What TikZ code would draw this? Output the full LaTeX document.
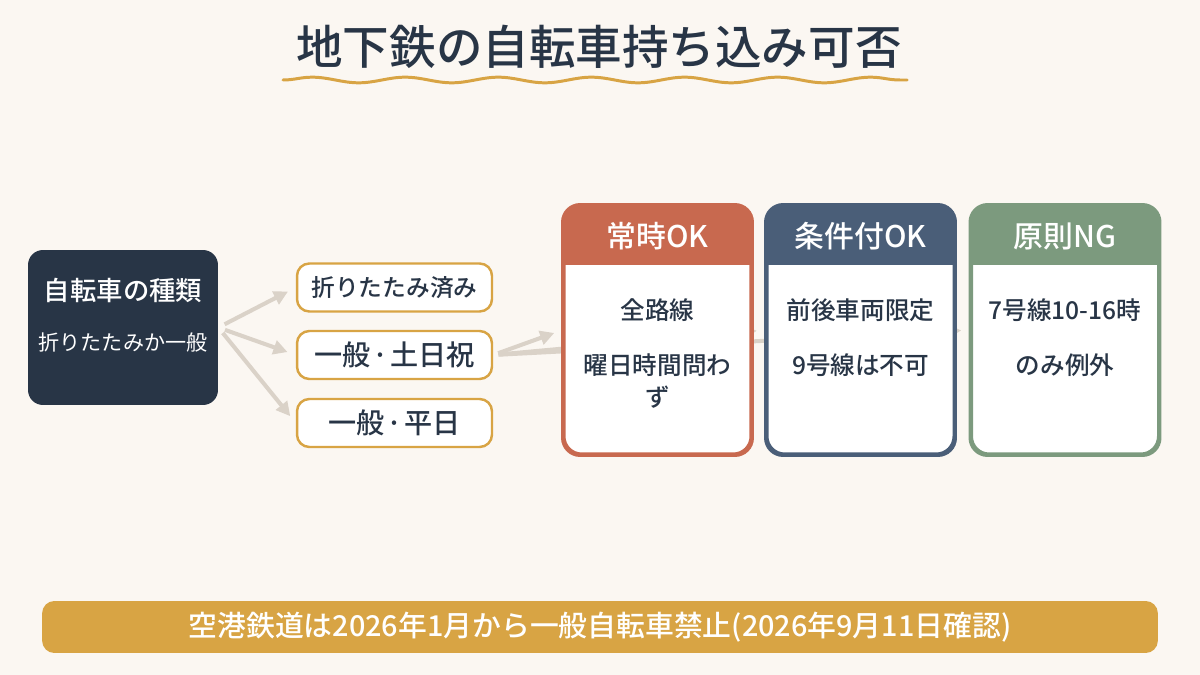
\documentclass[tikz,border=0pt]{standalone}
\usepackage{fontspec}
\setmainfont{Noto Sans CJK JP}[BoldFont={Noto Sans CJK JP Medium}]
\usetikzlibrary{positioning,arrows.meta,decorations.pathmorphing}

\definecolor{paper}{HTML}{FBF7F2}
\definecolor{ink}{HTML}{283546}
\definecolor{gold}{HTML}{D8A444}
\definecolor{rust}{HTML}{C8694F}
\definecolor{slate}{HTML}{4A5E78}
\definecolor{sage}{HTML}{7C9A7E}
\definecolor{link}{HTML}{DAD2C8}

\pgfdeclarelayer{bg}
\pgfdeclarelayer{under}
\pgfsetlayers{bg,under,main}

\tikzset{
    catbox/.style={rectangle, rounded corners=8.5pt, fill=ink, minimum width=3.8cm, minimum height=3.1cm},
    optbox/.style={rectangle, rounded corners=7pt, draw=gold, line width=1.4pt, fill=white,
        minimum width=3.9cm, minimum height=0.96cm, font=\fontsize{16}{18}\selectfont\bfseries, text=ink},
    card/.style={rectangle, rounded corners=10pt, line width=1.7pt, fill=white,
        minimum width=3.74cm, minimum height=4.96cm},
    headtxt/.style={font=\fontsize{17}{20}\selectfont\bfseries, text=white},
    bodytxt/.style={font=\fontsize{14}{17}\selectfont\bfseries, text=ink},
    link/.style={draw=link, line width=2.3pt, -{Triangle[length=8pt,width=8pt]}},
}

\begin{document}
\begin{tikzpicture}[x=0.02cm, y=-0.02cm]
    \useasboundingbox (0,0) rectangle (1200,675);
    \begin{pgfonlayer}{bg}
        \fill[paper] (0,0) rectangle (1200,675);
    \end{pgfonlayer}

    % title
    \node[font=\fontsize{26.5}{30}\selectfont\bfseries, text=ink] (title) at (599,47) {地下鉄の自転車持ち込み可否};
    \coordinate (waveL) at (283,80);
    \coordinate (waveR) at (907,80);
    \draw[gold, line width=1.7pt, line cap=round,
        decorate, decoration={snake, amplitude=1.6pt, segment length=53pt}] (waveL) -- (waveR);

    % bicycle type
    \node[catbox] (cat) at (123,327.5) {};
    \node[font=\fontsize{15}{18}\selectfont\bfseries, text=white] (catT) at (123,290) {自転車の種類};
    \node[font=\fontsize{12}{15}\selectfont, text=white] (catS) at (123,343) {折りたたみか一般};

    \node[optbox, font=\fontsize{13.5}{16}\selectfont\bfseries] (opt1) at (394.5,287.5) {折りたたみ済み};
    \node[optbox] (opt2) at (394.5,355) {一般\kern1pt·\kern1pt土日祝};
    \node[optbox] (opt3) at (394.5,423) {一般\kern1pt·\kern1pt平日};

    \foreach \o in {opt1,opt2,opt3}
        \draw[link, shorten <=4pt, shorten >=5pt] (cat.east) -- (\o.west);

    % result cards
    \foreach \c/\col/\pos/\head in {c1/rust/657.5/常時OK, c2/slate/860.5/条件付OK, c3/sage/1065/原則NG}{
        \node[card, draw=\col] (\c) at (\pos,330) {};
        \begin{scope}
            \clip[rounded corners=10pt] (\c.south west) rectangle (\c.north east);
            \fill[\col] (\c.north west) rectangle (\pos+100,265);
        \end{scope}
        \draw[\col, line width=1.7pt, rounded corners=10pt] (\c.south west) rectangle (\c.north east);
        \node[headtxt] (\c h) at (\pos,236) {\head};
    }

    \begin{pgfonlayer}{under}
        \foreach \c in {c1,c2,c3}
            \draw[link, shorten <=3pt, shorten >=5pt] (opt2.east) -- (\c.west);
    \end{pgfonlayer}

    \node[bodytxt] (c1a) at (657.5,310) {全路線};
    \node[bodytxt] (c1b) at (657.5,365) {曜日時間問わ};
    \node[bodytxt] (c1c) at (657.5,397) {ず};
    \node[bodytxt] (c2a) at (860.5,310) {前後車両限定};
    \node[bodytxt] (c2b) at (860.5,365) {9号線は不可};
    \node[bodytxt] (c3a) at (1065,310) {7号線10-16時};
    \node[bodytxt] (c3b) at (1065,365) {のみ例外};

    % note
    \node[rectangle, rounded corners=7pt, fill=gold, minimum width=22.32cm, minimum height=1.04cm,
        font=\fontsize{16.4}{20}\selectfont\bfseries, text=white] (note) at (600,627)
        {空港鉄道は2026年1月から一般自転車禁止(2026年9月11日確認)};
\end{tikzpicture}
\end{document}
